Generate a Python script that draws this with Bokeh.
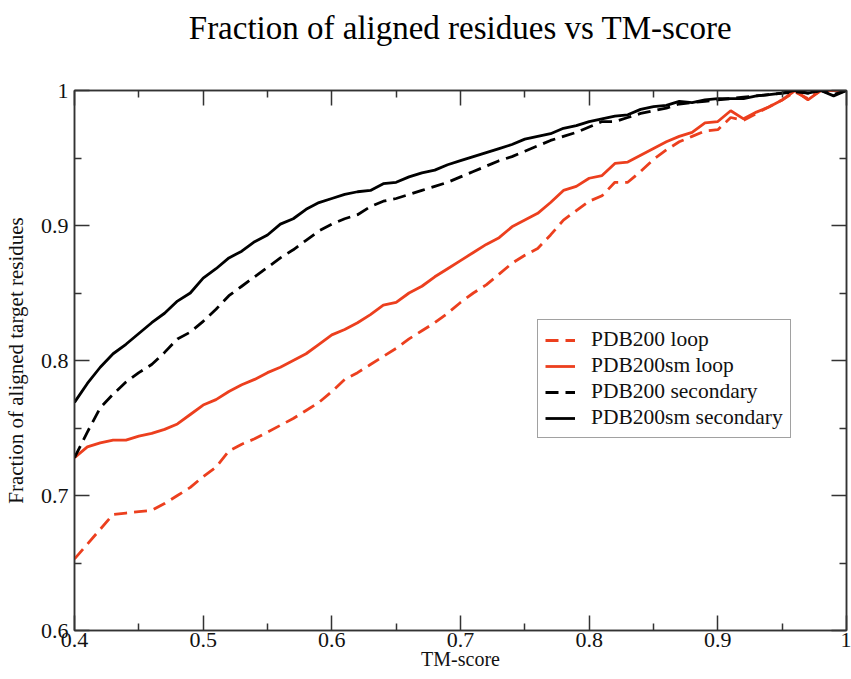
from bokeh.plotting import figure
from bokeh.models import (LinearAxis, FixedTicker, CustomJSTickFormatter, Legend, LegendItem, Range1d)
from bokeh.embed import file_html
from bokeh.resources import INLINE

tm_score = [round(0.40 + 0.01 * i, 2) for i in range(61)]

pdb200_loop = [
    0.653, 0.664, 0.675, 0.686, 0.687, 0.688, 0.689, 0.694, 0.700, 0.706,
    0.714, 0.721, 0.733, 0.738, 0.742, 0.747, 0.752, 0.757, 0.763, 0.769,
    0.777, 0.786, 0.791, 0.797, 0.803, 0.809, 0.816, 0.822, 0.828, 0.835,
    0.843, 0.850, 0.856, 0.864, 0.872, 0.878, 0.883, 0.893, 0.904, 0.911,
    0.918, 0.922, 0.932, 0.932, 0.940, 0.949, 0.956, 0.962, 0.966, 0.970,
    0.971, 0.980, 0.978, 0.983, 0.988, 0.993, 0.999, 0.994, 1.000, 1.000,
    1.000]

pdb200sm_loop = [
    0.728, 0.736, 0.739, 0.741, 0.741, 0.744, 0.746, 0.749, 0.753, 0.760,
    0.767, 0.771, 0.777, 0.782, 0.786, 0.791, 0.795, 0.800, 0.805, 0.812,
    0.819, 0.823, 0.828, 0.834, 0.841, 0.843, 0.850, 0.855, 0.862, 0.868,
    0.874, 0.880, 0.886, 0.891, 0.899, 0.904, 0.909, 0.917, 0.926, 0.929,
    0.935, 0.937, 0.946, 0.947, 0.952, 0.957, 0.962, 0.966, 0.969, 0.976,
    0.977, 0.985, 0.979, 0.984, 0.988, 0.993, 1.000, 0.993, 1.000, 1.000,
    1.000]

pdb200_secondary = [
    0.728, 0.747, 0.765, 0.775, 0.784, 0.791, 0.797, 0.806, 0.816, 0.821,
    0.829, 0.838, 0.848, 0.855, 0.862, 0.869, 0.876, 0.882, 0.889, 0.896,
    0.901, 0.905, 0.908, 0.914, 0.918, 0.920, 0.923, 0.926, 0.929, 0.932,
    0.936, 0.940, 0.944, 0.948, 0.951, 0.955, 0.959, 0.963, 0.966, 0.969,
    0.973, 0.977, 0.977, 0.980, 0.983, 0.985, 0.987, 0.990, 0.991, 0.992,
    0.993, 0.994, 0.995, 0.996, 0.997, 0.998, 0.999, 0.998, 1.000, 0.997,
    1.000]

pdb200sm_secondary = [
    0.769, 0.783, 0.795, 0.805, 0.812, 0.820, 0.828, 0.835, 0.844, 0.850,
    0.861, 0.868, 0.876, 0.881, 0.888, 0.893, 0.901, 0.905, 0.912, 0.917,
    0.920, 0.923, 0.925, 0.926, 0.931, 0.932, 0.936, 0.939, 0.941, 0.945,
    0.948, 0.951, 0.954, 0.957, 0.960, 0.964, 0.966, 0.968, 0.972, 0.974,
    0.977, 0.979, 0.981, 0.982, 0.986, 0.988, 0.989, 0.992, 0.991, 0.993,
    0.994, 0.994, 0.994, 0.996, 0.997, 0.998, 1.000, 0.998, 1.000, 0.996,
    1.000]

x_ticks = [0.4, 0.5, 0.6, 0.7, 0.8, 0.9, 1.0]
y_ticks = [0.6, 0.7, 0.8, 0.9, 1.0]
x_minor = [0.45, 0.55, 0.65, 0.75, 0.85, 0.95]
y_minor = [0.65, 0.75, 0.85, 0.95]
title_text = "Fraction of aligned residues vs TM-score"

RED = "#ec3f1e"
BLACK = "#000000"
AXC = "#333333"
SERIF = "Liberation Serif"

p = figure(width=851, height=679, output_backend="svg", toolbar_location=None,
           x_range=Range1d(0.4, 1.0), y_range=Range1d(0.6, 1.0),
           x_axis_location=None, y_axis_location=None,
           min_border_left=74, min_border_right=5, min_border_top=90, min_border_bottom=49)

p.xgrid.visible = False
p.ygrid.visible = False
p.outline_line_color = AXC
p.outline_line_width = 1.5

fmt = CustomJSTickFormatter(code="return String(Math.round(tick*10)/10);")

def make_axis(ticks, minor, show_labels, label=None):
    ax = LinearAxis(ticker=FixedTicker(ticks=ticks, minor_ticks=minor), formatter=fmt)
    ax.major_tick_in = 15
    ax.major_tick_out = 0
    ax.minor_tick_in = 7
    ax.minor_tick_out = 0
    ax.axis_line_color = AXC
    ax.axis_line_width = 1.5
    ax.major_tick_line_color = AXC
    ax.minor_tick_line_color = AXC
    ax.major_tick_line_width = 1.5
    ax.minor_tick_line_width = 1.5
    ax.major_label_text_font = SERIF
    ax.major_label_text_font_size = "22px"
    ax.major_label_text_color = "#111111"
    if not show_labels:
        ax.major_label_text_font_size = "0px"
        ax.major_label_text_alpha = 0
        ax.major_label_standoff = 0
    if label:
        ax.axis_label = label
        ax.axis_label_text_font = SERIF
        ax.axis_label_text_font_style = "normal"
        ax.axis_label_text_color = "#111111"
    return ax

xb = make_axis(x_ticks, x_minor, True, "TM-score")
xb.axis_label_text_font_size = "20px"
xb.major_label_standoff = 2
xb.axis_label_standoff = -2
yl = make_axis(y_ticks, y_minor, True, "Fraction of aligned target residues")
yl.axis_label_text_font_size = "21px"
yl.major_label_standoff = 6
yl.axis_label_standoff = 10
# top axis carries the chart title as its label
xt = make_axis(x_ticks, x_minor, False, title_text)
xt.axis_label_text_font_size = "33px"
xt.axis_label_text_color = "#000000"
xt.axis_label_standoff = 45
yr = make_axis(y_ticks, y_minor, False)
p.add_layout(xb, "below")
p.add_layout(yl, "left")
p.add_layout(xt, "above")
p.add_layout(yr, "right")

r1 = p.line(tm_score, pdb200_loop, line_color=RED, line_width=2.8, line_dash="13 7")
r2 = p.line(tm_score, pdb200sm_loop, line_color=RED, line_width=2.8)
r3 = p.line(tm_score, pdb200_secondary, line_color=BLACK, line_width=2.8, line_dash="13 7")
r4 = p.line(tm_score, pdb200sm_secondary, line_color=BLACK, line_width=2.8)

legend = Legend(items=[
    LegendItem(label="PDB200 loop", renderers=[r1]),
    LegendItem(label="PDB200sm loop", renderers=[r2]),
    LegendItem(label="PDB200 secondary", renderers=[r3]),
    LegendItem(label="PDB200sm secondary", renderers=[r4]),
], location=(463, 192))
legend.label_text_font = SERIF
legend.label_text_font_size = "21.5px"
legend.label_text_color = "#111111"
legend.glyph_width = 30
legend.glyph_height = 20
legend.label_height = 20
legend.label_standoff = 16
legend.spacing = 1
legend.padding = 7
legend.margin = 0
legend.border_line_color = "#444444"
legend.border_line_width = 1.2
legend.background_fill_alpha = 1
p.add_layout(legend, "center")

open("out.html", "w").write(file_html(p, INLINE))
